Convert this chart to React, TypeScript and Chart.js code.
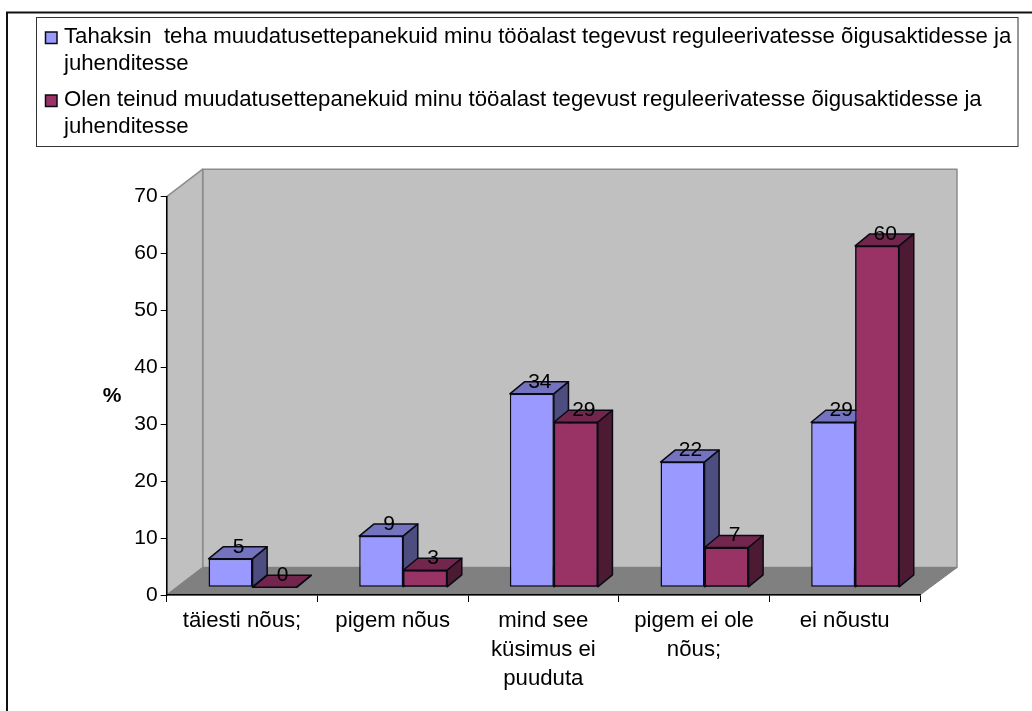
import React, { useEffect, useRef } from "react";
import { Chart, registerables } from "chart.js";

Chart.register(...registerables);

const categories = [
  "täiesti nõus;",
  "pigem nõus",
  ["mind see", "küsimus ei", "puuduta"],
  ["pigem ei ole", "nõus;"],
  "ei nõustu",
];
const wishValues = [5, 9, 34, 22, 29];
const doneValues = [0, 3, 29, 7, 60];
const wishLabel = [
  "Tahaksin  teha muudatusettepanekuid minu tööalast tegevust reguleerivatesse õigusaktidesse ja",
  "juhenditesse",
];
const doneLabel = [
  "Olen teinud muudatusettepanekuid minu tööalast tegevust reguleerivatesse õigusaktidesse ja",
  "juhenditesse",
];
const yAxisName = "%";

const FONT = '"Liberation Sans", Arial, sans-serif';
const TEXT_SIZE = 22.2;
const NUMBER_SIZE = 21;

// Plot box of the axes
const LEFT = 166.7;
const RIGHT = 920;
const TOP = 196.7;
const BOTTOM = 595;
// Depth of the floor and of each bar, and the shift of the bar row into the floor
const WALL_DX = 36;
const WALL_DY = 27.5;
const BAR_DX = 14.6;
const BAR_DY = 12;
const ROW_DX = 10.5;
const ROW_DY = 7.7;

const INK = "#0A0A14";
const palette = [
  { front: "#9999FF", top: "#7373BF", side: "#4D4D80" },
  { front: "#993366", top: "#73264D", side: "#4D1A33" },
];

function poly(ctx: CanvasRenderingContext2D, pts: number[][], fill: string, stroke: string, lw: number) {
  ctx.beginPath();
  pts.forEach(([x, y], i) => (i ? ctx.lineTo(x, y) : ctx.moveTo(x, y)));
  ctx.closePath();
  ctx.fillStyle = fill;
  ctx.fill();
  ctx.strokeStyle = stroke;
  ctx.lineWidth = lw;
  ctx.lineJoin = "round";
  ctx.stroke();
}

const framePlugin = {
  id: "frame",
  beforeDraw(chart: any) {
    const ctx: CanvasRenderingContext2D = chart.ctx;
    ctx.save();
    ctx.fillStyle = "#fff";
    ctx.fillRect(0, 0, chart.width, chart.height);

    // Outer frame: only the top and the left edge fall on the page
    ctx.strokeStyle = "#111";
    ctx.lineWidth = 2;
    ctx.beginPath();
    ctx.moveTo(7, chart.height);
    ctx.lineTo(7, 12.5);
    ctx.lineTo(chart.width, 12.5);
    ctx.stroke();

    // Walls and floor
    const backL = LEFT + WALL_DX;
    const backR = RIGHT + WALL_DX + 1;
    const backT = TOP - WALL_DY;
    const backB = BOTTOM - WALL_DY;
    poly(ctx, [[backL, backT], [backR, backT], [backR, backB], [backL, backB]], "#C0C0C0", "#8C8C8C", 1.5);
    poly(ctx, [[LEFT, TOP], [backL, backT], [backL, backB], [LEFT, BOTTOM]], "#C0C0C0", "#8C8C8C", 1.5);
    poly(ctx, [[LEFT, BOTTOM], [backL, backB], [backR, backB], [RIGHT, BOTTOM]], "#808080", "#808080", 1);
    ctx.restore();
  },
};

// Paints the top and side of every bar; the right-hand series goes last so its
// front hides the side of its left neighbour.
const bars3dPlugin = {
  id: "bars3d",
  beforeDatasetsDraw(chart: any) {
    chart.ctx.save();
    chart.ctx.translate(ROW_DX, -ROW_DY);
  },
  afterDatasetsDraw(chart: any) {
    const ctx: CanvasRenderingContext2D = chart.ctx;
    palette.forEach((colors, index) => {
      chart.getDatasetMeta(index).data.forEach((bar: any) => {
        if (index > 0) bar.draw(ctx);
        const { x, y, base, width } = bar.getProps(["x", "y", "base", "width"], true);
        const l = x - width / 2;
        const r = x + width / 2;
        poly(ctx, [[l, y], [r, y], [r + BAR_DX, y - BAR_DY], [l + BAR_DX, y - BAR_DY]], colors.top, INK, 1.5);
        poly(ctx, [[r, y], [r + BAR_DX, y - BAR_DY], [r + BAR_DX, base - BAR_DY], [r, base]], colors.side, INK, 1.5);
      });
    });
    ctx.restore();
  },
};

const labelsPlugin = {
  id: "valueLabels",
  afterDatasetsDraw(chart: any) {
    const ctx: CanvasRenderingContext2D = chart.ctx;
    ctx.save();
    ctx.font = `${NUMBER_SIZE}px ${FONT}`;
    ctx.fillStyle = "#000";
    ctx.textAlign = "center";
    ctx.textBaseline = "middle";
    chart.data.datasets.forEach((ds: any, i: number) => {
      chart.getDatasetMeta(i).data.forEach((bar: any, j: number) => {
        ctx.fillText(String(ds.data[j]), bar.x + ROW_DX + 8, bar.y - ROW_DY - 12);
      });
    });
    ctx.restore();
  },
};

const legendPlugin = {
  id: "boxedLegend",
  afterDraw(chart: any) {
    const ctx: CanvasRenderingContext2D = chart.ctx;
    ctx.save();
    ctx.lineWidth = 1;
    ctx.strokeStyle = "#333";
    ctx.strokeRect(36.5, 17.5, 981.5, 129);

    const entries = [
      { lines: wishLabel, colors: palette[0], boxTop: 32, base: 43 },
      { lines: doneLabel, colors: palette[1], boxTop: 95, base: 106 },
    ];
    ctx.font = `${TEXT_SIZE}px ${FONT}`;
    ctx.textAlign = "left";
    ctx.textBaseline = "alphabetic";
    for (const e of entries) {
      ctx.fillStyle = e.colors.front;
      ctx.strokeStyle = INK;
      ctx.lineWidth = 1.5;
      ctx.fillRect(45.5, e.boxTop, 11.5, 11.5);
      ctx.strokeRect(45.5, e.boxTop, 11.5, 11.5);
      ctx.fillStyle = "#000";
      e.lines.forEach((line, i) => ctx.fillText(line, 64, e.base + i * 26.7));
    }

    ctx.font = `bold ${NUMBER_SIZE}px ${FONT}`;
    ctx.textAlign = "center";
    ctx.textBaseline = "middle";
    ctx.fillText(yAxisName, 112, 396);
    ctx.restore();
  },
};

export default function App() {
  const ref = useRef<HTMLCanvasElement>(null);

  useEffect(() => {
    const chart = new Chart(ref.current!, {
      type: "bar",
      data: {
        labels: categories as any,
        datasets: [
          { label: wishLabel.join(" "), data: wishValues, backgroundColor: palette[0].front },
          { label: doneLabel.join(" "), data: doneValues, backgroundColor: palette[1].front },
        ].map((d) => ({
          ...d,
          borderColor: INK,
          borderWidth: 1.5,
          borderSkipped: false,
          clip: false,
          categoryPercentage: 0.584,
          barPercentage: 1,
        })) as any,
      },
      options: {
        responsive: false,
        animation: false,
        layout: { padding: { left: 0, right: 1032 - RIGHT, top: TOP, bottom: 0 } },
        plugins: { legend: { display: false }, tooltip: { enabled: false }, title: { display: false } },
        scales: {
          x: {
            afterFit: (s: any) => { s.height = 711 - BOTTOM; },
            border: { display: true, color: "#000", width: 1.5 },
            grid: { drawOnChartArea: false, drawTicks: true, tickLength: 7, tickColor: "#000", tickWidth: 1 },
            ticks: {
              color: "#000",
              padding: 4.5,
              maxRotation: 0,
              autoSkip: false,
              font: { family: FONT, size: TEXT_SIZE, lineHeight: 1.3 },
            },
          },
          y: {
            min: 0,
            max: 70,
            afterFit: (s: any) => { s.width = LEFT; },
            border: { display: true, color: "#000", width: 1.5 },
            grid: { drawOnChartArea: false, drawTicks: true, tickLength: 6, tickColor: "#000", tickWidth: 1 },
            ticks: {
              stepSize: 10,
              color: "#000",
              padding: 3,
              font: { family: FONT, size: NUMBER_SIZE },
            },
          },
        },
      },
      plugins: [framePlugin, bars3dPlugin, labelsPlugin, legendPlugin],
    } as any);
    return () => chart.destroy();
  }, []);

  return (
    <div style={{ position: "fixed", left: 0, top: 0, width: 1032, height: 711 }}>
      <canvas ref={ref} width={1032} height={711} style={{ display: "block" }} />
    </div>
  );
}
